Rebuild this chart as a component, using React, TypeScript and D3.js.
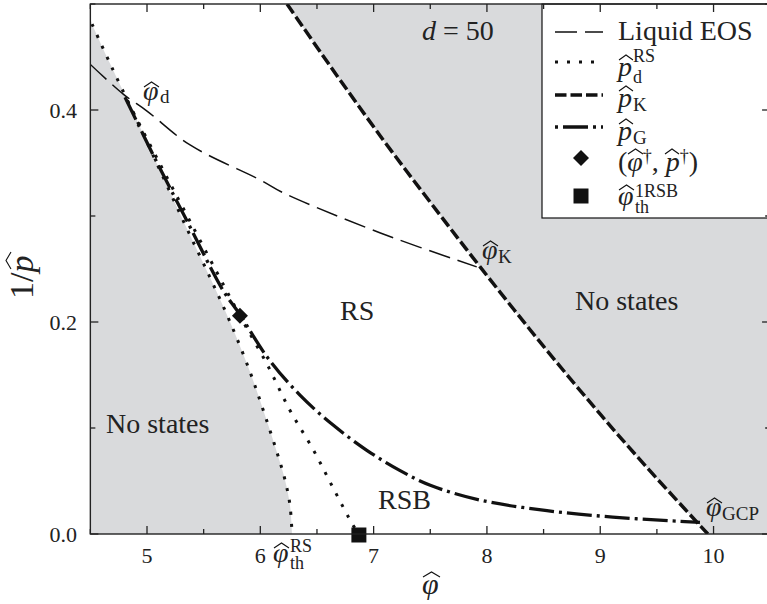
import React from "react";
import * as d3 from "d3";

// ---------- data ----------
const xMajorTicks = [5, 6, 7, 8, 9, 10];
const yMajorTicks = [0.0, 0.2, 0.4];
const xMinorTicks = [4.5, 5.5, 6.5, 7.5, 8.5, 9.5, 10.5];
const yMinorTicks = [0.1, 0.3, 0.5];

const liquidPhi = [4.5, 4.79, 5.0, 5.38, 6.0, 6.2, 7.06, 7.91];
const liquidP = [0.443, 0.415, 0.399, 0.367, 0.334, 0.322, 0.284, 0.252];

const pdOuterPhi = [4.515, 4.673, 4.894, 5.115, 5.335, 5.556, 5.733, 5.909, 6.041, 6.147, 6.218, 6.262, 6.28];
const pdOuterP = [0.481, 0.444, 0.394, 0.343, 0.292, 0.242, 0.2, 0.153, 0.112, 0.077, 0.051, 0.027, 0.0];

const pdInnerPhi = [4.83, 5.1, 5.37, 5.69, 5.85, 6.06, 6.26, 6.47, 6.64, 6.82, 6.87];
const pdInnerP = [0.408, 0.352, 0.297, 0.232, 0.2, 0.16, 0.117, 0.079, 0.044, 0.008, 0.0];

const pKPhi = [6.236, 6.6, 7.083, 7.5, 7.94, 8.5, 9.0, 9.41, 9.95];
const pKP = [0.5, 0.444, 0.372, 0.313, 0.252, 0.177, 0.113, 0.063, 0.0];

const pGPhi = [4.806, 5.09, 5.35, 5.67, 5.82, 6.06, 6.35, 6.64, 6.94, 7.23, 7.5, 7.94, 8.53, 9.11, 9.7, 9.88];
const pGP = [0.412, 0.35, 0.296, 0.23, 0.207, 0.167, 0.131, 0.103, 0.079, 0.06, 0.046, 0.032, 0.022, 0.016, 0.012, 0.011];

const daggerPoint = [5.82, 0.206];
const th1rsbPoint = [6.87, 0.0];

// ---------- layout ----------
const W = 767;
const H = 604;
const FONT = "'Liberation Serif', 'Times New Roman', serif";
const x = d3.scaleLinear().domain([4.5, 10.5]).range([90.35, 770.2]);
const y = d3.scaleLinear().domain([0, 0.5]).range([534, 4]);

const zip = (a: number[], b: number[]): [number, number][] => a.map((v, i) => [v, b[i]]);

const lineGen = d3
  .line<[number, number]>()
  .x((d) => x(d[0]))
  .y((d) => y(d[1]))
  .curve(d3.curveCatmullRom.alpha(0.5));

const GRAY = "#d9dadc";
const INK = "#111";

const hat = (x0: number, y0: number, w: number) =>
  `M${x0} ${y0 + 5} L${x0 + w / 2} ${y0} L${x0 + w} ${y0 + 5}`;

function Hat({ x0, y0, w }: { x0: number; y0: number; w: number }) {
  return <path d={hat(x0, y0, w)} fill="none" stroke={INK} strokeWidth={1.1} />;
}

const styles = {
  liquid: { stroke: INK, strokeWidth: 1.5, strokeDasharray: "22 8", fill: "none" },
  dotted: { stroke: INK, strokeWidth: 3, strokeDasharray: "3 9", fill: "none" },
  pK: { stroke: INK, strokeWidth: 3.5, strokeDasharray: "11.5 4", fill: "none" },
  pG: { stroke: INK, strokeWidth: 3.3, strokeDasharray: "25 5 3 5", fill: "none" },
};

export default function App() {
  const outer = zip(pdOuterPhi, pdOuterP);
  const leftGray =
    `M${x(4.5)} ${y(0.486)} L` + lineGen(outer)!.slice(1) + ` L${x(4.5)} ${y(0)} Z`;
  const pK = zip(pKPhi, pKP);
  const rightGray = lineGen(pK)! + ` L${x(10.5)} ${y(0)} L${x(10.5)} ${y(0.5)} Z`;

  const x0 = x(4.5), x1 = x(10.5), y0 = y(0), y1 = y(0.5);

  const diamond = d3.symbol(d3.symbolSquare, 128)()!;
  const square = d3.symbol(d3.symbolSquare, 225)()!;

  const lx0 = 555, lx1 = 603, tx = 618;

  return (
    <svg
      width={W}
      height={H}
      style={{ position: "absolute", left: 0, top: 0, background: "#fff" }}
      fontFamily={FONT}
    >
      <defs>
        <clipPath id="plot">
          <rect x={x0} y={y1} width={x1 - x0} height={y0 - y1} />
        </clipPath>
      </defs>
      <rect x={0} y={0} width={W} height={H} fill="#fff" />

      <g clipPath="url(#plot)">
        <path d={leftGray} fill={GRAY} />
        <path d={rightGray} fill={GRAY} />
        <path d={lineGen(zip(liquidPhi, liquidP))!} {...styles.liquid} />
        <path d={lineGen(outer)!} {...styles.dotted} />
        <path d={lineGen(zip(pdInnerPhi, pdInnerP))!} {...styles.dotted} />
        <path d={lineGen(pK)!} {...styles.pK} />
        <path d={lineGen(zip(pGPhi, pGP))!} {...styles.pG} />
      </g>
      <path
        d={diamond}
        transform={`translate(${x(daggerPoint[0])},${y(daggerPoint[1])}) rotate(45)`}
        fill={INK}
      />
      <path d={square} transform={`translate(${x(th1rsbPoint[0])},${y(th1rsbPoint[1]) + 1})`} fill={INK} />

      {/* region labels */}
      <g fontSize={28} fill="#222">
        <text x={422} y={40}>
          <tspan fontStyle="italic">d</tspan> = 50
        </text>
        <text x={340} y={320}>RS</text>
        <text x={378} y={509}>RSB</text>
        <text x={575} y={310}>No states</text>
        <text x={106} y={433}>No states</text>
        {/* phi_d */}
        <text x={143} y={100} fontStyle="italic">φ</text>
        <Hat x0={144} y0={82} w={15} />
        <text x={160} y={103} fontSize={19}>d</text>
        {/* phi_K */}
        <text x={482} y={259} fontStyle="italic">φ</text>
        <Hat x0={483} y0={241} w={15} />
        <text x={498} y={263} fontSize={19}>K</text>
        {/* phi_GCP */}
        <text x={706} y={516} fontStyle="italic">φ</text>
        <Hat x0={707} y0={498} w={15} />
        <text x={722} y={520} fontSize={19}>GCP</text>
        {/* phi_th^RS */}
        <text x={273} y={562} fontStyle="italic">φ</text>
        <Hat x0={274} y0={543} w={15} />
        <text x={290} y={552} fontSize={18}>RS</text>
        <text x={290} y={569} fontSize={18}>th</text>
      </g>

      {/* legend */}
      <rect x={542} y={4} width={240} height={214} fill="#fff" stroke={INK} strokeWidth={1.2} />
      <line x1={lx0} x2={lx1} y1={32} y2={32} {...styles.liquid} />
      <line x1={lx0} x2={lx1} y1={62} y2={62} {...styles.dotted} />
      <line x1={lx0} x2={lx1} y1={95} y2={95} {...styles.pK} />
      <line x1={lx0} x2={lx1} y1={127} y2={127} {...styles.pG} strokeDashoffset={30} />
      <path d={diamond} transform={`translate(581,158) rotate(45)`} fill={INK} />
      <path d={square} transform={`translate(581,196)`} fill={INK} />
      <g fontSize={28} fill="#222">
        <text x={tx} y={40}>Liquid EOS</text>
        <text x={tx} y={76} fontStyle="italic">p</text>
        <Hat x0={tx + 1} y0={55} w={14} />
        <text x={tx + 15} y={62} fontSize={18}>RS</text>
        <text x={tx + 15} y={83} fontSize={18}>d</text>

        <text x={tx} y={107} fontStyle="italic">p</text>
        <Hat x0={tx + 1} y0={86} w={14} />
        <text x={tx + 15} y={111} fontSize={19}>K</text>

        <text x={tx} y={140} fontStyle="italic">p</text>
        <Hat x0={tx + 1} y0={119} w={14} />
        <text x={tx + 15} y={144} fontSize={19}>G</text>

        <text x={tx} y={171}>
          (<tspan fontStyle="italic">φ</tspan>
          <tspan fontSize={18} dy={-9}>†</tspan>
          <tspan dy={9}>, </tspan>
          <tspan fontStyle="italic">p</tspan>
          <tspan fontSize={18} dy={-9}>†</tspan>
          <tspan dy={9}>)</tspan>
        </text>
        <Hat x0={tx + 10} y0={149} w={15} />
        <Hat x0={tx + 47} y0={149} w={14} />

        <text x={tx} y={205} fontStyle="italic">φ</text>
        <Hat x0={tx + 1} y0={185} w={15} />
        <text x={tx + 17} y={197} fontSize={18}>1RSB</text>
        <text x={tx + 17} y={213} fontSize={18}>th</text>
      </g>

      {/* frame and ticks */}
      <rect x={x0} y={y1} width={x1 - x0} height={y0 - y1} fill="none" stroke="#222" strokeWidth={1.4} />
      <g stroke="#222" strokeWidth={1.3}>
        {xMajorTicks.map((t) => (
          <g key={"xM" + t}>
            <line x1={x(t)} x2={x(t)} y1={y0} y2={y0 - 8} />
            <line x1={x(t)} x2={x(t)} y1={y1} y2={y1 + 8} />
          </g>
        ))}
        {xMinorTicks.map((t) => (
          <g key={"xm" + t}>
            <line x1={x(t)} x2={x(t)} y1={y0} y2={y0 - 5} />
            <line x1={x(t)} x2={x(t)} y1={y1} y2={y1 + 5} />
          </g>
        ))}
        {yMajorTicks.map((t) => (
          <g key={"yM" + t}>
            <line x1={x0} x2={x0 + 8} y1={y(t)} y2={y(t)} />
            <line x1={x1} x2={x1 - 8} y1={y(t)} y2={y(t)} />
          </g>
        ))}
        {yMinorTicks.map((t) => (
          <g key={"ym" + t}>
            <line x1={x0} x2={x0 + 5} y1={y(t)} y2={y(t)} />
            <line x1={x1} x2={x1 - 5} y1={y(t)} y2={y(t)} />
          </g>
        ))}
      </g>
      <g fontSize={22} fill="#222">
        {xMajorTicks.map((t) => (
          <text key={"xl" + t} x={x(t)} y={563} textAnchor="middle">
            {d3.format("d")(t)}
          </text>
        ))}
        {yMajorTicks.map((t) => (
          <text key={"yl" + t} x={77} y={y(t) + 8} textAnchor="end">
            {d3.format(".1f")(t)}
          </text>
        ))}
      </g>

      {/* axis labels */}
      <g fill="#222">
        <text x={422} y={594} fontSize={30} fontStyle="italic">φ</text>
        <Hat x0={423} y0={572} w={17} />
        <g transform="translate(33,273) rotate(-90)">
          <text x={-26} y={0} fontSize={34}>
            1/<tspan fontStyle="italic">p</tspan>
          </text>
          <path d={hat(4, -27, 17)} fill="none" stroke={INK} strokeWidth={1.1} />
        </g>
      </g>
    </svg>
  );
}
